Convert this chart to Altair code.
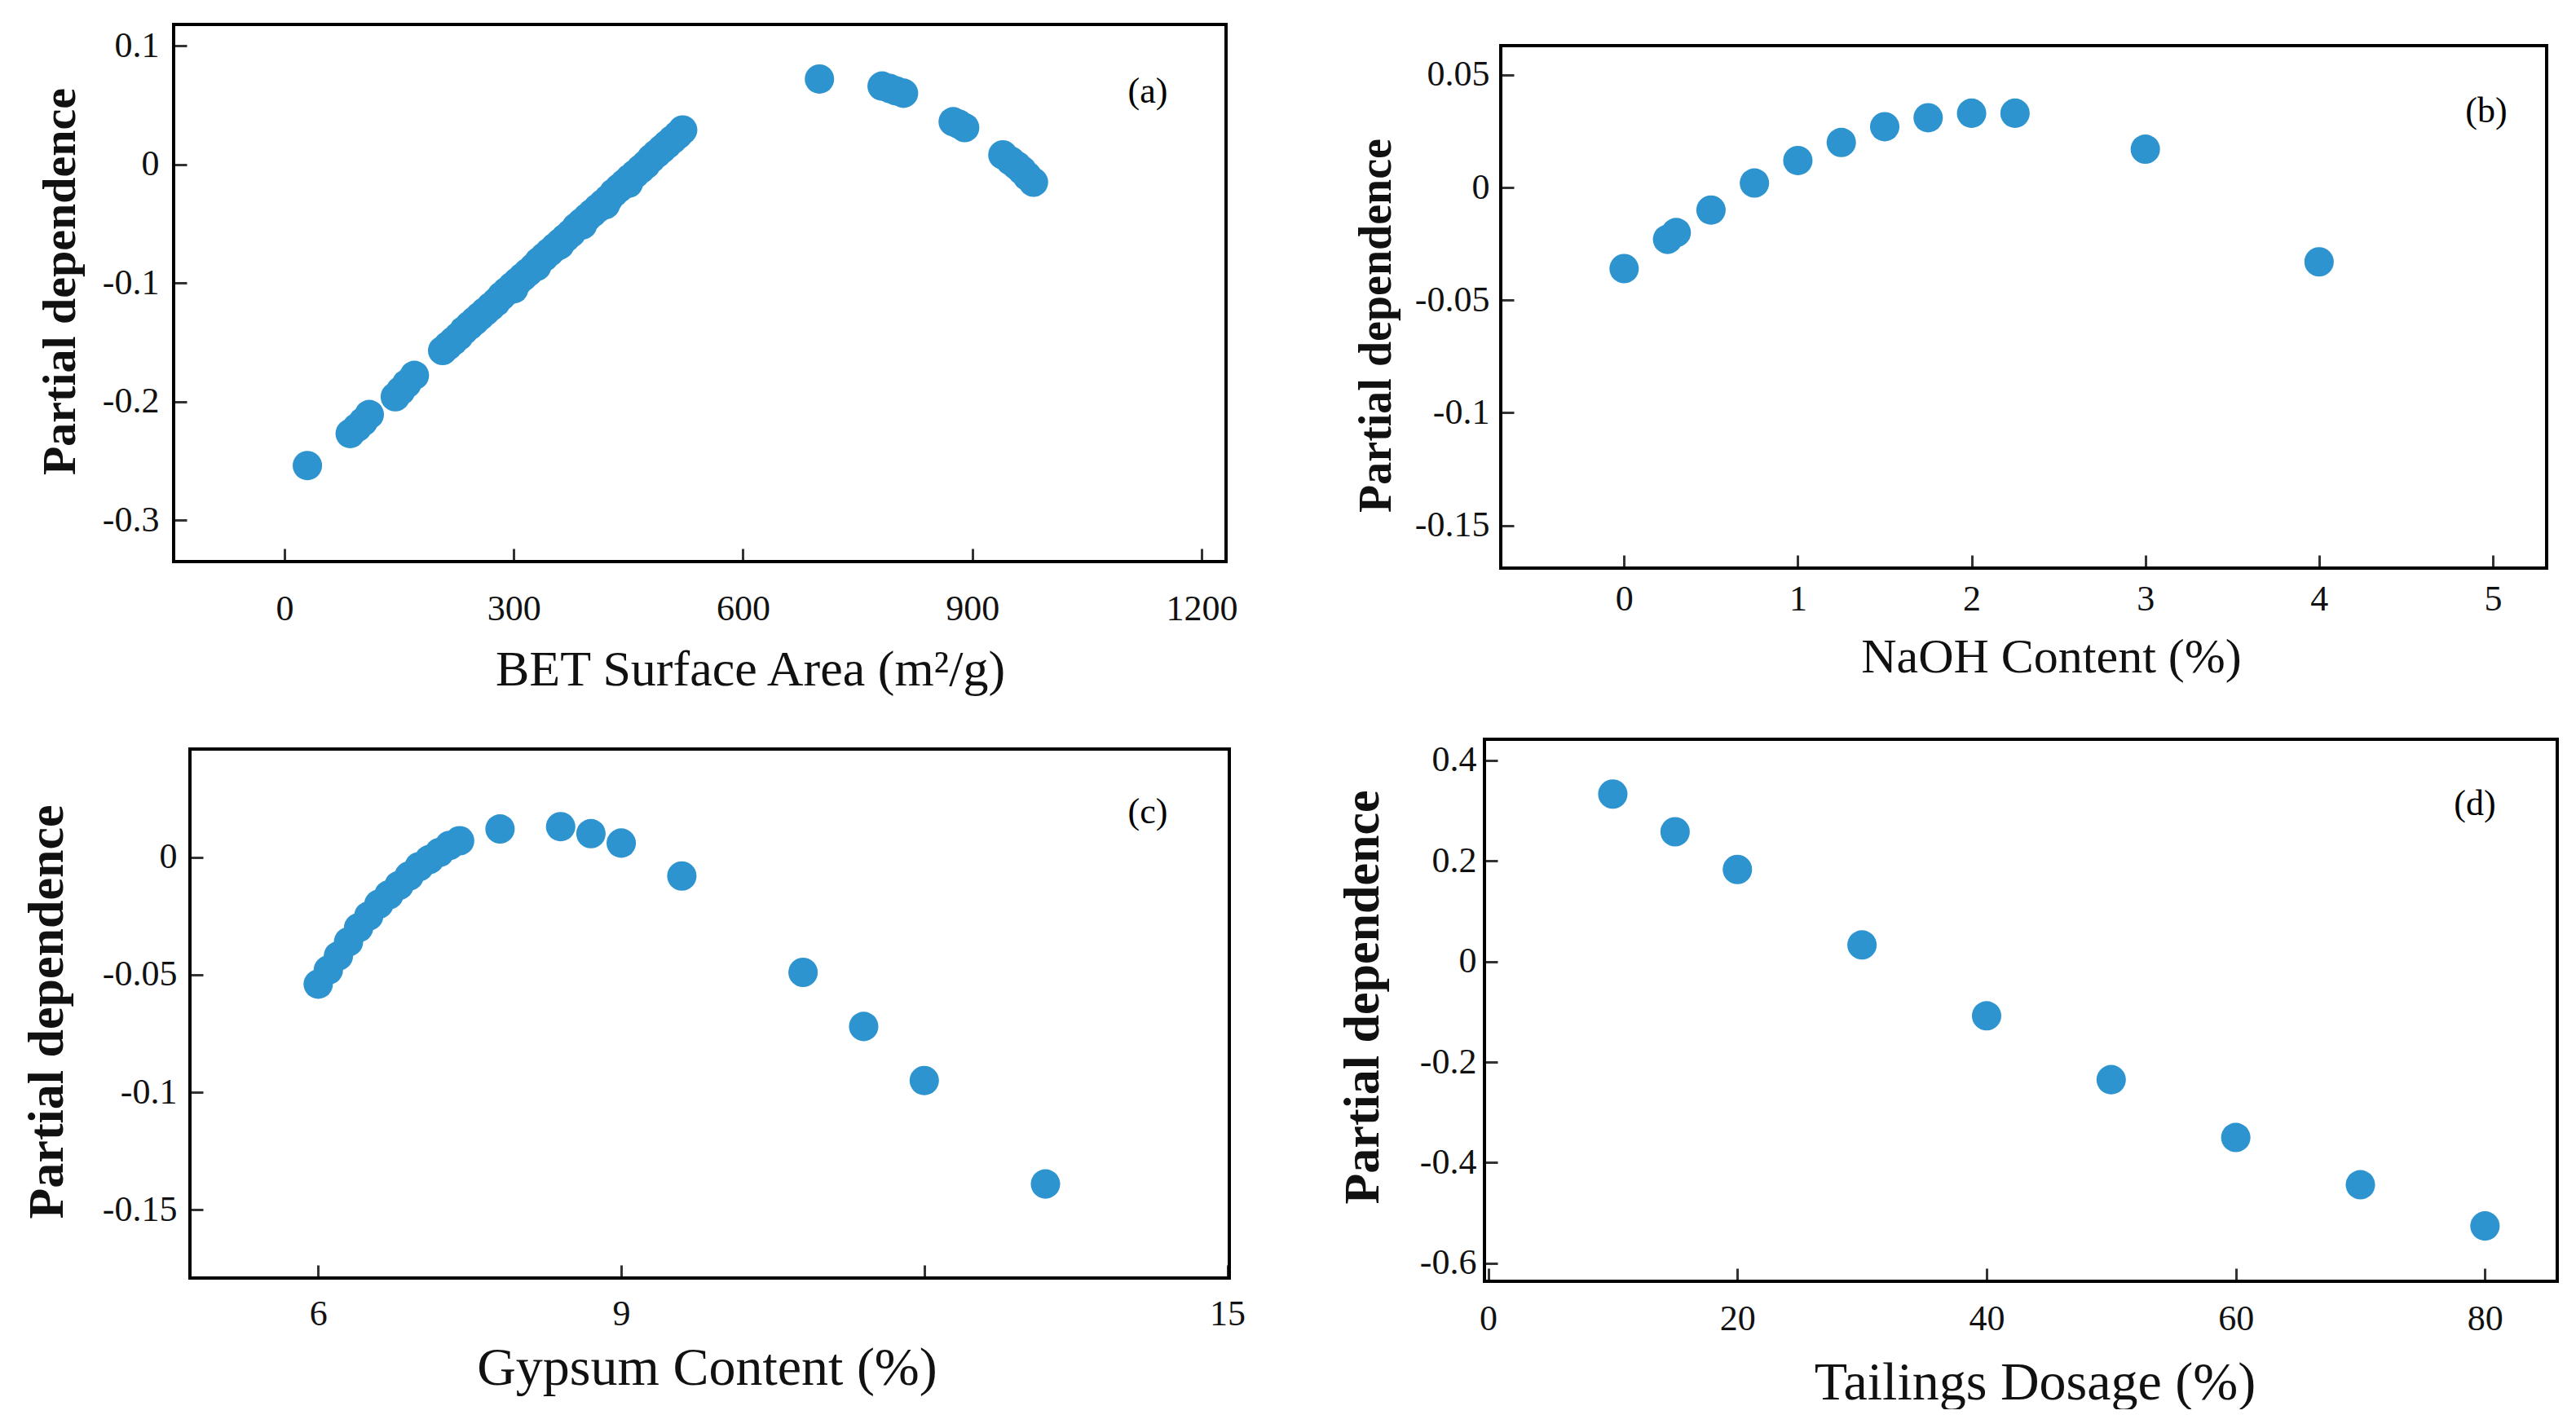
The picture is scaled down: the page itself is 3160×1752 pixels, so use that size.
import altair as alt
import pandas as pd

BLUE = "#2E94D0"
FONT = "Liberation Serif"

# (a) BET surface area
bet_x = [30, 86, 95, 103, 111, 145, 152, 160, 170,
         207, 214, 221, 228, 235, 242, 249, 256, 263, 270, 277, 284, 291, 298, 305, 312,
         319, 326, 333, 340, 347, 354, 361, 368, 375, 382, 389, 396, 403, 410, 417, 424,
         431, 438, 445, 452, 459, 466, 473, 480, 487, 494, 501, 508, 515, 521,
         300, 330, 360, 390, 420, 450,
         700, 782, 792, 800, 810, 875, 882, 890, 940, 950, 958, 965, 972, 980]
bet_y = [-0.254, -0.227, -0.222, -0.217, -0.211, -0.196, -0.191, -0.185, -0.178,
         -0.157, -0.153, -0.149, -0.145, -0.140, -0.136, -0.132, -0.128, -0.124, -0.120,
         -0.116, -0.111, -0.107, -0.103, -0.099, -0.095, -0.091, -0.087, -0.082, -0.078,
         -0.074, -0.070, -0.066, -0.062, -0.058, -0.053, -0.049, -0.045, -0.041, -0.037,
         -0.033, -0.029, -0.024, -0.020, -0.016, -0.012, -0.008, -0.004, 0.000, 0.005,
         0.009, 0.013, 0.017, 0.021, 0.025, 0.029,
         -0.105, -0.086, -0.068, -0.051, -0.034, -0.016,
         0.072, 0.066, 0.064, 0.062, 0.060, 0.036, 0.034, 0.031, 0.008, 0.003, -0.001,
         -0.005, -0.010, -0.015]

# (b) NaOH content
naoh_x = [0, 0.25, 0.3, 0.5, 0.75, 1.0, 1.25, 1.5, 1.75, 2.0, 2.25, 3.0, 4.0]
naoh_y = [-0.036, -0.023, -0.020, -0.010, 0.002, 0.012, 0.020, 0.027, 0.031, 0.033, 0.033, 0.017, -0.033]

# (c) Gypsum content
gyp_x = [6.0, 6.1, 6.2, 6.3, 6.4, 6.5, 6.6, 6.7, 6.8, 6.9, 7.0, 7.1, 7.2, 7.3, 7.4,
         7.8, 8.4, 8.7, 9.0, 9.6, 10.8, 11.4, 12.0, 13.2]
gyp_y = [-0.054, -0.048, -0.042, -0.036, -0.030, -0.025, -0.020, -0.016, -0.012, -0.008,
         -0.004, -0.001, 0.002, 0.005, 0.007,
         0.012, 0.013, 0.010, 0.006, -0.008, -0.049, -0.072, -0.095, -0.139]

# (d) Tailings dosage
tail_x = [10, 15, 20, 30, 40, 50, 60, 70, 80]
tail_y = [0.333, 0.258, 0.183, 0.033, -0.108, -0.235, -0.350, -0.444, -0.526]

TICK = 16


def panel(xs, ys, xdom, ydom, xvals, yvals, xtitle, letter, W, H, pads,
          xlabpad, ylabpad, xtitlepad, ytitlepad, lx, ly, xtfs, ytfs, xtx, yty,
          xlabelexpr="toString(datum.value)"):
    lpad, rpad, tpad, bpad = pads
    # extend the data domains so that they map onto the framed area
    sx = (xdom[1] - xdom[0]) / (W - lpad - rpad)
    sy = (ydom[1] - ydom[0]) / (H - tpad - bpad)
    xd = [xdom[0] - lpad * sx, xdom[1] + rpad * sx]
    yd = [ydom[0] - bpad * sy, ydom[1] + tpad * sy]
    df = pd.DataFrame({"x": xs, "y": ys})
    pts = alt.Chart(df).mark_circle(size=1300, color=BLUE, opacity=1).encode(
        x=alt.X("x:Q",
                scale=alt.Scale(domain=xd, nice=False, zero=False),
                axis=alt.Axis(values=xvals, title=xtitle, offset=-(TICK + bpad), tickSize=TICK,
                              domain=False, labelPadding=xlabpad, titlePadding=xtitlepad,
                              titleFontSize=xtfs, titleX=xtx, labelExpr=xlabelexpr)),
        y=alt.Y("y:Q",
                scale=alt.Scale(domain=yd, nice=False, zero=False),
                axis=alt.Axis(values=yvals, title="Partial dependence", offset=-(TICK + lpad),
                              tickSize=TICK, domain=False, labelPadding=ylabpad,
                              titlePadding=ytitlepad, labelExpr="toString(datum.value)",
                              titleFontSize=ytfs, titleFontWeight="bold", titleY=yty)),
    )
    frame = alt.Chart(pd.DataFrame({"k": [0]})).mark_rect(
        filled=False, stroke="black", strokeWidth=4
    ).encode(x=alt.value(lpad), x2=alt.value(W - rpad), y=alt.value(tpad), y2=alt.value(H - bpad))
    txt = alt.Chart(pd.DataFrame({"t": [letter]})).mark_text(
        font=FONT, fontSize=44, color="black", align="center", baseline="middle"
    ).encode(text="t:N", x=alt.value(lx), y=alt.value(ly))
    return alt.layer(frame, pts, txt).properties(width=W, height=H)


a = panel(bet_x, bet_y, [-145, 1232], [-0.335, 0.118], [0, 300, 600, 900, 1200],
          [-0.3, -0.2, -0.1, 0, 0.1], "BET Surface Area   (m²/g)", "(a)", 1295, 667,
          (0, 4, 0, 8),
          36, 18, 22, 22, 1195, 83, 62, 58, 707, 315)
b = panel(naoh_x, naoh_y, [-0.71, 5.31], [-0.169, 0.063], [0, 1, 2, 3, 4, 5],
          [-0.15, -0.1, -0.05, 0, 0.05], "NaOH Content (%)", "(b)", 1316, 667,
          (20, 13, 26, 0),
          16, 14, 20, 18, 1229, 107, 60, 56, 695, 369)
c = panel(gyp_x, gyp_y, [4.73, 15.02], [-0.179, 0.046], [6, 9, 12, 15],
          [-0.15, -0.1, -0.05, 0], "Gypsum Content (%)", "(c)", 1295, 665,
          (20, 0, 12, 4),
          22, 16, 12, 36, 1195, 90, 66, 62, 654, 334,
          xlabelexpr="datum.value == 12 ? '' : toString(datum.value)")
d = panel(tail_x, tail_y, [-0.3, 85.8], [-0.636, 0.442], [0, 20, 40, 60, 80],
          [-0.6, -0.4, -0.2, 0, 0.2, 0.4], "Tailings Dosage (%)", "(d)", 1316, 665,
          (0, 0, 0, 0),
          24, 10, 24, 38, 1215, 80, 66, 62, 675, 316)

chart = alt.concat(a, b, c, d, columns=2, align="each", bounds="flush",
                   spacing={"row": 210, "column": 313}).properties(
    padding={"left": 26, "top": 28, "right": 0, "bottom": 0},
    background="white",
).configure_view(
    stroke="transparent", strokeWidth=0
).configure_axis(
    grid=False,
    labelFont=FONT, labelFontSize=44, labelColor="#111",
    titleFont=FONT, titleColor="#111", titleFontWeight="normal",
    tickColor="#333", tickWidth=3,
).configure_title(font=FONT)

chart.save("out.html", embed_options={"renderer": "svg", "actions": False})
